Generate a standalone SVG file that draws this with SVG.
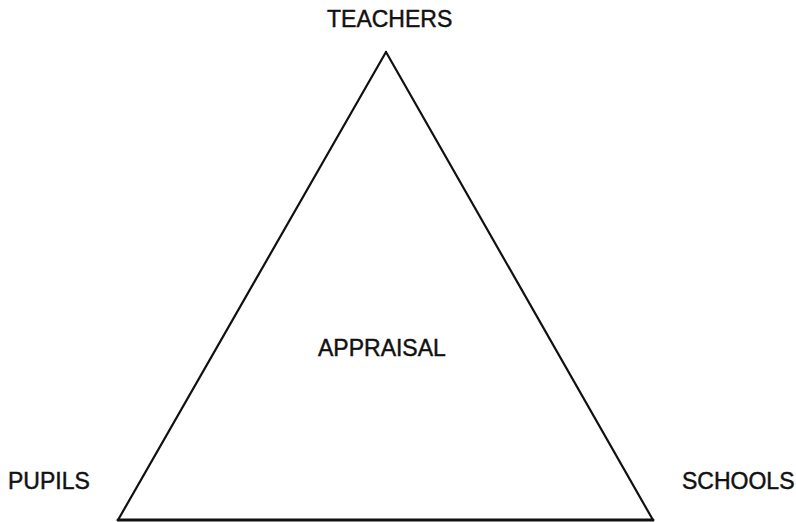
<svg xmlns="http://www.w3.org/2000/svg" width="796" height="522" viewBox="0 0 796 522">
<style>
.lbl{font-family:"Liberation Sans",Arial,Helvetica,sans-serif;font-size:23px;fill:#111;stroke:#111;stroke-width:0.45;}
.edge{stroke:#111;stroke-width:2.2;fill:none;stroke-linecap:round;}
</style>
<rect width="796" height="522" fill="#fff"/>
<g id="connectors">
<line class="edge" x1="386" y1="52" x2="118" y2="520"/>
<line class="edge" x1="386" y1="52" x2="653" y2="520"/>
<line class="edge" x1="118" y1="520" x2="653" y2="520" style="stroke-width:3"/>
</g>
<g id="teachers"><text class="lbl" x="327" y="27">TEACHERS</text></g>
<g id="pupils"><text class="lbl" x="8" y="489">PUPILS</text></g>
<g id="schools"><text class="lbl" x="682" y="489">SCHOOLS</text></g>
<g id="appraisal"><text class="lbl" x="318" y="356">APPRAISAL</text></g>
</svg>
